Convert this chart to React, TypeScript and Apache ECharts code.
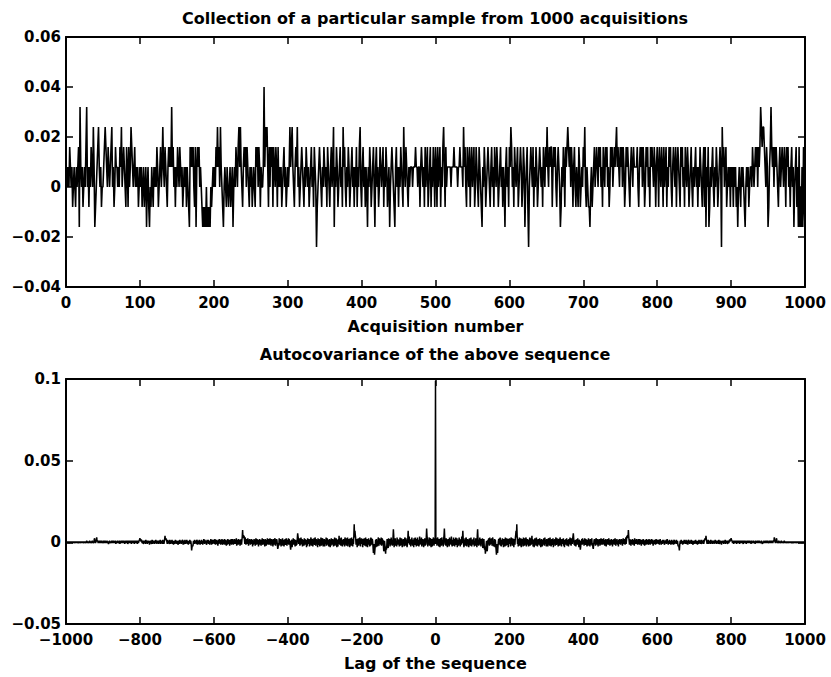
import React, { useEffect, useRef } from "react";
import * as echarts from "echarts";

// ---------- data ----------
// Top plot: each acquisition is quantized in steps of 0.008 (level * 0.008)
const LEVEL_STEP = 0.008;
const sampleLevels: number[] = [
  1,0,1,0,2,1,0,1,-1,0, 1,0,-1,1,0,1,2,-2,4,1, 0,1,-1,0,1,0,2,4,0,1, -1,1,0,2,1,0,3,1,-2,-1, 0,1,2,3,1,0,1,-1,0,0,
  1,2,3,2,1,0,2,1,0,1, 2,3,0,1,-1,0,2,1,1,0, 1,0,2,1,3,0,1,2,1,0, -1,2,1,-1,2,0,1,3,2,1, 0,1,2,0,1,0,1,-1,0,1,
  0,1,-1,0,1,-1,0,1,-2,0, 1,-1,-2,0,-1,1,0,-1,1,0, 1,0,2,1,-1,0,1,2,0,1, 3,1,0,2,1,0,-1,1,2,1, 2,1,4,1,2,0,1,-1,1,0,
  2,1,0,2,1,0,1,-1,0,1, 0,1,-1,1,0,-1,-2,2,1,2, 1,2,0,-1,2,-2,1,2,1,2, 0,1,0,-1,-2,-1,-2,-1,-2,0, -2,-1,-2,-1,-2,0,-1,0,1,0,
  1,0,2,1,3,1,2,0,3,1, 0,-1,-2,0,1,0,-1,1,0,-1, 0,1,-1,0,1,-2,0,1,0,2, 1,0,2,3,1,3,1,0,-1,1, 2,1,2,0,2,1,0,-1,1,0,
  1,-1,0,1,0,-1,2,1,2,0, 2,1,-1,1,0,0,1,5,1,3, 2,3,1,-1,2,0,2,1,2,-1, 2,1,0,2,1,-1,2,0,1,0, 1,-1,0,1,2,0,1,-1,0,1,
  0,1,3,1,2,3,1,0,-1,1, 2,1,3,0,1,-1,0,1,2,1, 0,-1,1,0,2,1,0,1,-1,0, 1,2,0,1,-1,2,1,0,-3,-1, 0,1,2,1,0,-1,1,0,2,1,
  0,1,-1,2,1,0,-1,1,2,0, 1,3,-2,1,0,2,1,-1,0,1, 2,0,1,-1,3,1,2,0,-1,1, 0,2,1,-1,0,1,2,0,1,-1, 1,0,2,-1,1,0,2,3,0,-1,
  1,2,0,1,-1,1,0,-2,1,0, 2,1,-1,0,1,2,0,-2,1,2, 0,1,-1,0,2,1,0,1,2,-1, 1,0,2,1,-1,0,1,-2,0,1, 2,1,0,-1,-2,1,2,0,1,-1,
  1,0,2,1,0,-1,3,1,0,2, 1,0,-1,1,0,1,1,1,0,1, 1,1,2,1,1,0,1,1,-1,1, 2,1,0,1,-1,2,0,1,2,-1, 0,1,2,-1,1,0,2,1,-1,2,
  1,-1,2,0,1,2,-1,1,0,2, 3,1,-1,2,0,1,1,1,1,1, 0,1,1,1,2,1,1,1,1,0, 1,1,2,1,1,1,0,3,1,2, 0,-1,2,1,0,2,-1,1,2,0,
  1,2,-1,0,2,1,0,-1,2,1, 0,-1,-2,1,0,2,1,-1,0,1, 2,1,0,-1,1,2,0,1,-1,2, 1,0,2,1,-1,0,1,2,0,1, -1,1,0,-2,1,2,0,1,-1,2,
  1,3,2,0,1,-1,2,1,0,1, 2,-1,0,1,2,1,-1,0,2,1, -2,0,1,2,-1,-3,0,1,2,1, 0,2,-1,1,0,2,1,-1,0,1, 2,1,0,1,-1,2,1,0,2,1,
  3,1,0,2,1,2,2,-1,1,2, 1,2,0,-1,1,2,1,0,-2,-1, 1,0,2,1,-1,2,1,2,3,2, 1,2,0,2,1,-1,1,2,0,-1, 1,0,-1,2,1,-1,0,1,0,2,
  1,3,0,-1,1,0,-1,-1,-2,0, 1,-1,0,1,2,0,1,2,1,0, 2,1,2,0,1,-1,2,1,0,2, 1,2,0,1,-1,0,2,1,2,0, 1,2,1,2,3,1,2,1,0,2,
  1,2,0,2,1,-1,0,2,1,2, 1,0,-1,1,2,1,0,2,1,1, 1,1,2,0,-1,1,2,1,2,0, 2,1,-1,0,2,1,2,0,1,-1, 2,1,2,1,0,2,1,-1,1,2,
  1,-1,2,1,0,2,1,-1,2,0, 1,2,-1,1,0,2,1,2,0,-1, 1,2,1,0,2,-1,1,2,1,0, -1,2,1,2,0,1,-1,2,1,0, 2,1,-1,0,1,2,0,-1,1,0,
  1,2,0,1,-1,1,0,2,1,0, -1,1,2,-1,2,-2,1,0,2,-2, -1,1,0,1,2,0,-1,1,0,2, 1,-1,0,1,2,1,-3,3,1,2, 0,1,2,-1,0,1,0,1,-1,1,
  0,1,-1,1,0,1,-1,0,-2,0, 1,0,-1,1,0,1,0,-1,-2,0, 1,0,1,-1,0,1,1,0,2,1, 0,1,2,1,2,0,2,1,2,4, 3,2,3,3,2,1,0,2,1,-2,
  -1,1,2,4,2,1,2,0,2,1, 2,1,0,-1,1,2,0,1,2,1, 0,2,1,-1,2,1,2,0,1,-1, 1,2,0,1,-2,0,1,2,-1,1, -2,2,-2,0,-2,1,-2,2,-1,-2,
];

// Bottom plot: autocovariance, in units of 0.0005, for lags 1..999 (symmetric about lag 0)
const ACOV_UNIT = 0.0005;
const acovPeak = 198;
const acovPositiveLags: number[] = [
  3,-2,5,-4,1,6,-3,2,-5,4, 0,-6,3,5,-2,-4,6,1,-3,2, -5,4,8,17,6,-3,2,-4,5,-1, 3,-6,2,4,-3,1,-5,6,0,-2, 4,-3,7,-1,-5,3,2,-4,6,-2,
  1,-5,4,-2,6,-3,0,5,-6,2, 3,-4,-1,6,-2,4,-5,1,3,-3, 7,-1,5,14,4,-2,-6,3,-1,5, -4,2,6,-3,-5,1,4,-2,3,-6, 0,5,-3,2,-4,6,-1,-5,3,1,
  -3,4,-2,6,-5,2,1,-4,5,-1, 3,-6,8,16,5,-2,-4,3,-1,6, -3,2,-5,4,0,-2,5,-7,-3,2, 4,-6,-9,-5,-14,-8,-3,2,-6,-11, -4,3,-2,5,-1,-4,6,-3,1,4,
  -2,5,-4,1,6,-3,-5,2,-1,4, -6,3,-4,-9,-15,-7,-2,-13,-6,1, 4,-3,5,-2,6,-4,2,-5,3,-1, 5,-3,1,-6,4,-2,3,-5,6,0, -4,2,5,-3,-1,4,-6,3,-2,5,
  -1,4,-5,3,6,-2,1,-4,5,-3, 2,-6,4,1,-3,5,9,14,6,22, 8,-2,3,-5,4,-1,6,-4,2,-3, 5,-6,1,4,-2,3,-5,6,-1,2, -4,5,-3,1,6,-5,2,-1,4,-3,
  3,-5,2,-1,6,-4,1,5,-3,2, 8,-2,4,-5,3,-1,-6,2,5,-3, 1,-4,6,-2,3,-5,0,4,-3,2, -1,5,-4,3,-6,1,4,-2,-5,3, 2,-3,5,-1,-4,6,-2,1,3,-5,
  4,-1,2,-5,3,5,-3,1,-4,6, -2,3,-5,2,4,-1,-3,5,-6,1, 3,-2,4,-4,2,6,-3,-1,5,-2, 1,-5,3,4,-2,-4,6,2,-3,1, -5,4,-1,3,-2,5,-4,2,-6,3,
  1,-3,4,-2,5,-4,2,-1,3,-5, 4,1,-2,6,-3,2,-4,5,1,-2, 4,7,11,5,-3,2,-4,1,3,-5, 2,-1,4,-3,5,-2,1,-6,3,2, -4,-9,-5,2,-1,4,-3,5,-2,1,
  3,-4,2,5,-1,-3,4,-2,1,-5, 3,2,-4,5,-1,3,-2,-5,4,1, -3,2,5,-4,-1,-6,-8,-3,2,4, -2,1,-4,3,5,-3,2,-1,4,-5, 1,3,-2,4,-4,2,-1,5,-3,1,
  -2,4,-3,1,5,-2,3,-4,2,-1, 4,-5,1,3,-2,4,-3,-1,5,-2, 2,-4,3,1,-3,4,-1,2,-5,3, 1,-2,4,-3,2,5,-1,-4,3,-2, 4,1,-3,2,-5,3,-1,4,-2,1,
  -3,2,4,-1,3,-4,1,5,-2,3, -1,4,-3,2,6,-2,3,8,5,9, 6,15,7,2,-3,4,-1,2,-4,3, 1,-2,4,-3,2,-1,3,-4,5,-2, 1,3,-2,4,-1,2,-3,1,4,-2,
  2,-3,4,1,-2,3,-4,2,-1,3, -2,4,-3,1,2,-4,3,-1,2,-3, 4,-2,1,3,-1,-3,2,4,-2,1, -3,2,3,-1,4,-2,-1,3,-4,2, 1,-2,3,2,-3,1,4,-1,-2,3,
  -1,2,3,-2,1,-3,2,4,-1,2, -3,1,2,-2,3,1,-1,3,-2,-3, 2,1,-1,3,-2,2,4,-1,1,-3, 2,-1,3,-2,1,2,-3,1,3,-1, -2,2,1,-3,2,3,-1,-2,1,2,
  -1,3,-2,1,2,-3,-5,-4,-6,-10, -3,1,2,-2,3,-1,1,2,-3,2, 1,-2,3,-1,2,1,-2,3,-1,-2, 2,1,-3,2,3,-1,1,-2,2,1, -1,3,-2,1,2,-1,-3,2,1,-2,
  2,-1,1,3,-2,1,-1,2,-3,2, 1,-2,3,1,-1,2,-2,1,3,-1, -2,2,1,-1,3,-2,1,2,4,5, 3,8,4,1,-2,2,-1,3,-2,1, 2,-1,1,-2,3,1,-1,2,-2,1,
  -1,2,1,-2,2,-1,3,-1,1,-2, 2,1,-1,2,-2,1,3,-1,-2,1, 2,-1,1,-3,2,1,-1,2,1,-2, 1,2,-1,3,-2,1,-1,2,1,-1, -2,2,1,-1,2,3,1,4,3,5,
  3,2,1,-1,2,1,-2,1,2,-1, 1,-1,2,1,-2,1,2,-1,1,2, -1,1,-2,2,1,-1,1,2,-1,1, 2,-1,-2,1,2,1,-1,2,-1,1, -2,1,2,-1,1,-1,2,1,-1,1,
  2,-1,1,-2,1,2,-1,1,1,-1, 2,1,-1,1,-2,1,2,-1,1,-1, 1,2,-1,1,-1,2,1,-1,1,1, -1,2,1,-1,-2,1,1,-1,2,1, -1,1,-1,2,1,-1,1,2,-1,1,
  1,-1,2,1,-1,1,2,-1,1,-1, 2,1,-1,2,1,3,6,2,1,-1, 1,3,5,2,-1,1,1,-1,2,1, -1,1,1,-1,1,2,-1,1,-1,1, 1,-1,1,2,-1,1,-1,1,1,-1,
  1,-1,1,1,-1,1,-1,1,0,1, -1,1,1,-1,1,0,-1,1,1,-1, 1,0,1,-1,1,0,-1,1,0,1, -1,0,1,0,-1,1,0,1,0,-1, 0,1,0,-1,0,1,0,0,0,
];

// Axis ranges and ticks
const topX = { min: 0, max: 1000, interval: 100 };
const topY = { min: -0.04, max: 0.06, interval: 0.02 };
const botX = { min: -1000, max: 1000, interval: 200 };
const botY = { min: -0.05, max: 0.1, interval: 0.05 };

const titles = [
  "Collection of a particular sample from 1000 acquisitions",
  "Autocovariance of the above sequence",
];
const xNames = ["Acquisition number", "Lag of the sequence"];

// ---------- chart ----------
const FONT = "DejaVu Sans";

function fmt(v: number): string {
  const r = Math.round(v * 10000) / 10000;
  if (r === 0) return "0";
  const s = String(Math.abs(r));
  return (r < 0 ? "\u2212" : "") + s;
}

const labelStyle = {
  color: "#000",
  fontFamily: FONT,
  fontWeight: "bold" as const,
  fontSize: 15,
};

function makeAxis(
  kind: "x" | "y",
  gridIndex: number,
  position: string,
  range: { min: number; max: number; interval: number },
  showLabel: boolean,
  name?: string
) {
  return {
    type: "value",
    gridIndex,
    position,
    min: range.min,
    max: range.max,
    interval: range.interval,
    name: name || "",
    nameLocation: "middle",
    nameGap: 31,
    nameTextStyle: { ...labelStyle, fontSize: 16 },
    axisLine: { show: true, onZero: false, lineStyle: { color: "#000", width: 2 } },
    axisTick: { show: true, inside: true, length: 7, lineStyle: { color: "#000", width: 1.5 } },
    splitLine: { show: false },
    axisLabel: {
      show: showLabel,
      margin: kind === "x" ? 8 : 5,
      formatter: (v: number) => fmt(v),
      ...labelStyle,
    },
  };
}

export default function App() {
  const ref = useRef<HTMLDivElement>(null);

  useEffect(() => {
    if (!ref.current) return;
    const chart = echarts.init(ref.current, null, { renderer: "svg" });

    const topData = sampleLevels.map((l, i) => [i + 1, l * LEVEL_STEP]);
    const acovUnits = [...acovPositiveLags].reverse().concat([acovPeak], acovPositiveLags);
    const nSide = acovPositiveLags.length;
    const botData = acovUnits.map((u, i) => [i - nSide, u * ACOV_UNIT]);

    chart.setOption({
      animation: false,
      backgroundColor: "#fff",
      title: [
        {
          text: titles[0],
          left: 435,
          top: 10,
          textAlign: "center",
          padding: 0,
          textStyle: { ...labelStyle, fontSize: 16 },
        },
        {
          text: titles[1],
          left: 435,
          top: 346,
          textAlign: "center",
          padding: 0,
          textStyle: { ...labelStyle, fontSize: 16 },
        },
      ],
      grid: [
        { left: 66, top: 37, width: 739, height: 250 },
        { left: 66, top: 379, width: 739, height: 245 },
      ],
      xAxis: [
        makeAxis("x", 0, "bottom", topX, true, xNames[0]),
        makeAxis("x", 0, "top", topX, false),
        makeAxis("x", 1, "bottom", botX, true, xNames[1]),
        makeAxis("x", 1, "top", botX, false),
      ],
      yAxis: [
        makeAxis("y", 0, "left", topY, true),
        makeAxis("y", 0, "right", topY, false),
        makeAxis("y", 1, "left", botY, true),
        makeAxis("y", 1, "right", botY, false),
      ],
      series: [
        {
          type: "line",
          xAxisIndex: 0,
          yAxisIndex: 0,
          data: topData,
          showSymbol: false,
          symbol: "none",
          silent: true,
          lineStyle: { color: "#000", width: 1.6 },
        },
        {
          type: "line",
          xAxisIndex: 2,
          yAxisIndex: 2,
          data: botData,
          showSymbol: false,
          symbol: "none",
          silent: true,
          lineStyle: { color: "#000", width: 1.5 },
        },
      ],
    });

    return () => chart.dispose();
  }, []);

  return (
    <div
      ref={ref}
      style={{ position: "absolute", left: 0, top: 0, width: 831, height: 677, background: "#fff" }}
    />
  );
}
